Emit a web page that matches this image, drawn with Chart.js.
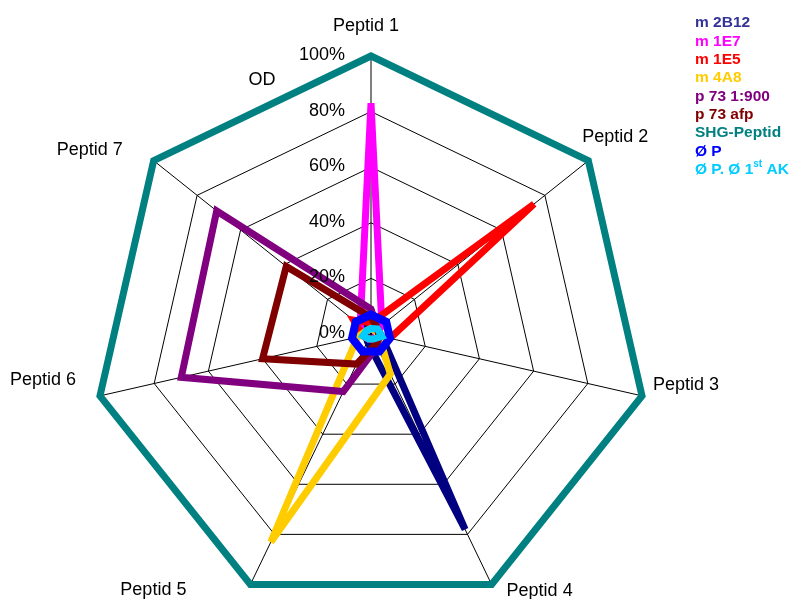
<!DOCTYPE html>
<html>
<head>
<meta charset="utf-8">
<script src="https://cdn.jsdelivr.net/npm/chart.js@4"></script>
<style>
  html, body { margin: 0; padding: 0; background: #fff; overflow: hidden; }
  #wrap { width: 792px; height: 599px; position: relative; }
</style>
</head>
<body>
<div id="wrap"><canvas id="radar" width="792" height="599"></canvas></div>
<script>
// axes and ticks
const peptides = ['Peptid 1', 'Peptid 2', 'Peptid 3', 'Peptid 4', 'Peptid 5', 'Peptid 6', 'Peptid 7'];
const tickValues = [0, 20, 40, 60, 80, 100];
const axisTitle = 'OD';

// series (OD in %, Peptid 1..7)
const seriesNames = ['m 2B12', 'm 1E7', 'm 1E5', 'm 4A8', 'p 73 1:900', 'p 73 afp', 'SHG-Peptid', 'Ø P', 'Ø P. Ø 1st AK'];
const m2B12   = [3, 3, 4, 78, 3, 2, 3];
const m1E7    = [83, 5, 2, 2, 2, 3, 5];
const m1E5    = [4, 75, 7, 2, 2, 3, 8];
const m4A8    = [2, 2, 3, 16, 83, 5, 2];
const p73_900 = [9, 3, 3, 5, 23, 70, 71];
const p73afp  = [6, 3, 3, 4, 12, 40, 39];
const shg     = [100, 100, 100, 100, 100, 100, 100];
const oP      = [7, 7, 7, 7, 7, 7, 7];
const oPo1AK  = [2, 3, 4, 2, 2, 3, 2];
const seriesValues = [m2B12, m1E7, m1E5, m4A8, p73_900, p73afp, shg, oP, oPo1AK];

const lineColors   = ['#000080', '#FF00FF', '#FF0000', '#FFCC00', '#800080', '#800000', '#008080', '#0000FF', '#00CCFF'];
const legendColors = ['#333399', '#FF00FF', '#FF0000', '#FFCC00', '#800080', '#800000', '#008080', '#0000FF', '#00CCFF'];
const lineWidths   = [7, 7, 7, 7, 7, 7, 7, 8, 7];

// label offsets from the outer vertex (Excel-like placement)
const labelOffsets = [[-5, -30], [27, -24], [44, -11], [48, 7], [-97, 6], [-57, -16], [-64, -11]];

const FONT = '"Liberation Sans", Arial, sans-serif';

// sharp spikes get cut like in Excel, wide corners stay mitred
const joinPlugin = {
  id: 'joins',
  beforeDatasetsDraw(chart) { chart.ctx.miterLimit = 3; }
};

const textPlugin = {
  id: 'texts',
  afterDatasetsDraw(chart) {
    const ctx = chart.ctx;
    const r = chart.scales.r;
    ctx.save();
    ctx.fillStyle = '#000';
    ctx.font = '18px ' + FONT;

    // tick labels left of the first axis
    ctx.textAlign = 'right';
    ctx.textBaseline = 'middle';
    r.ticks.forEach(t => {
      const y = r.yCenter - r.getDistanceFromCenterForValue(t.value);
      ctx.fillText(t.value + '%', r.xCenter - 26, y - 1);
    });

    // axis title
    ctx.textAlign = 'center';
    ctx.fillText(axisTitle, r.xCenter - 109, r.yCenter - 254);

    // category labels
    const outer = r.getDistanceFromCenterForValue(r.max);
    chart.data.labels.forEach((lab, i) => {
      const p = r.getPointPosition(i, outer);
      ctx.fillText(lab, p.x + labelOffsets[i][0], p.y + labelOffsets[i][1]);
    });

    // legend: coloured text only
    ctx.textAlign = 'left';
    chart.data.datasets.forEach((ds, i) => {
      const x = 695, y = 23 + i * 18.33;
      ctx.fillStyle = legendColors[i];
      ctx.font = 'bold 15.5px ' + FONT;
      const m = ds.label.match(/^(.*\d)(st|nd|rd|th)(.*)$/);
      if (!m) {
        ctx.fillText(ds.label, x, y);
        return;
      }
      ctx.fillText(m[1], x, y);
      let cx = x + ctx.measureText(m[1]).width;
      ctx.font = 'bold 10px ' + FONT;
      ctx.fillText(m[2], cx, y - 5);
      cx += ctx.measureText(m[2]).width;
      ctx.font = 'bold 15.5px ' + FONT;
      ctx.fillText(m[3], cx, y);
    });
    ctx.restore();
  }
};

new Chart(document.getElementById('radar'), {
  type: 'radar',
  data: {
    labels: peptides,
    datasets: seriesNames.map((name, i) => ({
      label: name,
      data: seriesValues[i],
      borderColor: lineColors[i],
      backgroundColor: 'transparent',
      borderWidth: lineWidths[i],
      borderJoinStyle: 'miter',
      pointRadius: 0,
      pointHoverRadius: 0,
      fill: false,
      tension: 0,
      clip: false,
      order: seriesNames.length - i
    }))
  },
  options: {
    responsive: false,
    animation: false,
    devicePixelRatio: 1,
    layout: { padding: 0 },
    plugins: {
      legend: { display: false },
      tooltip: { enabled: false }
    },
    scales: {
      r: {
        min: tickValues[0],
        max: tickValues[tickValues.length - 1],
        ticks: { display: false, stepSize: tickValues[1] - tickValues[0] },
        grid: { color: '#000', lineWidth: 1 },
        angleLines: { color: '#000', lineWidth: 1 },
        pointLabels: { display: false },
        afterFit: s => { s.xCenter = 371; s.yCenter = 334; s.drawingArea = 278; }
      }
    }
  },
  plugins: [joinPlugin, textPlugin]
});
</script>
</body>
</html>
